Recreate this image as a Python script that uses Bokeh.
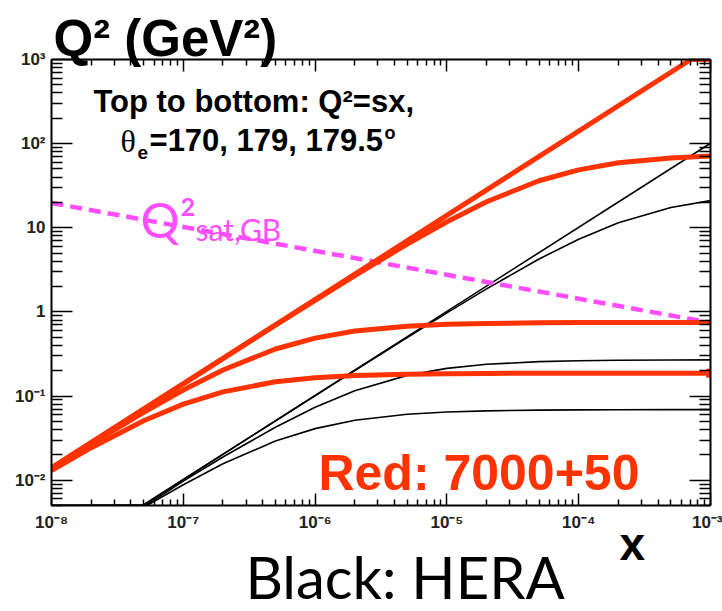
from bokeh.plotting import figure
from bokeh.models import Label, LogAxis, FixedTicker, CustomJSTickFormatter
from bokeh.embed import file_html
from bokeh.resources import INLINE

# ---------------- data ----------------
x_ticks = [1e-8, 1e-7, 1e-6, 1e-5, 1e-4, 1e-3]
y_ticks = [1e-2, 1e-1, 1, 10, 100, 1000]

# red: 7000 GeV p + 50 GeV e
red_grid_x = [1e-8, 2e-8, 5e-8, 1e-7, 2e-7, 5e-7, 1e-6, 2e-6, 5e-6,
              1e-5, 2e-5, 5e-5, 1e-4, 2e-4, 5e-4, 1e-3]
red_sx_x = [1e-8, 7.1e-4, 1e-3]
red_sx_q = [0.014, 1000, 1000]
red_170_q = [0.014, 0.028, 0.0699, 0.1397, 0.279, 0.694, 1.374, 2.70, 6.40,
             11.8, 20.4, 36.2, 48.8, 59.2, 67.7, 71.2]
red_179_q = [0.01374, 0.02699, 0.0640, 0.1180, 0.2039, 0.362, 0.488, 0.592, 0.677,
             0.712, 0.730, 0.742, 0.746, 0.748, 0.749, 0.750]
red_1795_q = [0.01302, 0.02435, 0.0509, 0.0801, 0.1121, 0.1476, 0.165, 0.1753, 0.182,
              0.1845, 0.1858, 0.1865, 0.1868, 0.1869, 0.187, 0.187]

# black: HERA
blk_sx_x = [1e-8, 4.9e-8, 1e-3]
blk_sx_q = [0.005, 0.005, 101.0]
blk_170_x = [1e-8, 5e-8, 1e-7, 2e-7, 5e-7, 1e-6, 2e-6, 5e-6, 1e-5, 2e-5, 5e-5, 1e-4, 2e-4, 5e-4, 1e-3]
blk_170_q = [0.005, 0.00506, 0.01012, 0.02022, 0.0505, 0.1008, 0.2009, 0.4965, 0.975,
             1.88, 4.25, 7.32, 11.47, 17.39, 21.0]
blk_179_x = [1e-8, 5.2e-8, 1e-7, 2e-7, 5e-7, 1e-6, 2e-6, 5e-6, 1e-5, 2e-5, 5e-5, 1e-4, 2e-4, 5e-4, 1e-3]
blk_179_q = [0.005, 0.005, 0.00975, 0.01883, 0.0426, 0.0736, 0.1157, 0.1761, 0.2131,
             0.2382, 0.2563, 0.2630, 0.2664, 0.2686, 0.2693]
blk_1795_x = [1e-8, 5.3e-8, 1e-7, 2e-7, 5e-7, 1e-6, 2e-6, 5e-6, 1e-5, 2e-5, 5e-5, 1e-4, 2e-4, 5e-4, 1e-3]
blk_1795_q = [0.005, 0.005, 0.00883, 0.01565, 0.0292, 0.0410, 0.0515, 0.0607, 0.0646,
              0.0667, 0.0681, 0.0685, 0.0688, 0.0689, 0.0690]

# saturation scale Q^2_sat,GB
sat_x = [1e-8, 1e-3]
sat_q = [19.7, 0.745]

RED = "#ff3300"
MAG = "#ff4dff"

p = figure(x_axis_type="log", y_axis_type="log",
           x_range=(1e-8, 1e-3), y_range=(0.005, 1000),
           frame_width=659, frame_height=446,
           min_border_left=51, min_border_right=12, min_border_top=59, min_border_bottom=106,
           output_backend="svg", toolbar_location=None)
p.grid.visible = False
p.outline_line_color = None
p.background_fill_color = "white"
p.border_fill_color = "white"

p.title.text = "Q\u00b2 (GeV\u00b2)"
p.title.align = "left"
p.title.offset = 2
p.title.standoff = -14
p.title.text_font = "Liberation Sans"
p.title.text_font_style = "bold"
p.title.text_font_size = "51px"
p.title.text_color = "black"

fmt_code = """
const e = Math.round(Math.log10(tick));
const sup = {'-':'\u207b','0':'\u2070','1':'\u00b9','2':'\u00b2','3':'\u00b3','4':'\u2074',
             '5':'\u2075','6':'\u2076','7':'\u2077','8':'\u2078','9':'\u2079'};
if (e == 0) return '1';
if (e == 1) return '10';
return '10' + String(e).split('').map(c => sup[c]).join('');
"""
x_minor = [m * 10.0 ** e for e in range(-9, -2) for m in range(2, 10)]
y_minor = [m * 10.0 ** e for e in range(-3, 4) for m in range(2, 10)]


def style(ax, major_in, minor_in):
    ax.axis_line_width = 2
    ax.axis_line_color = "black"
    ax.major_tick_in = major_in
    ax.major_tick_out = 0
    ax.minor_tick_in = minor_in
    ax.minor_tick_out = 0
    ax.major_tick_line_width = 1.5
    ax.minor_tick_line_width = 1.5
    ax.major_tick_line_color = "black"
    ax.minor_tick_line_color = "black"
    ax.major_label_text_font = "Liberation Sans"
    ax.major_label_text_font_style = "bold"
    ax.major_label_text_font_size = "17px"
    ax.major_label_text_color = "#222222"


xb = p.xaxis[0]
xb.ticker = FixedTicker(ticks=x_ticks, minor_ticks=x_minor)
xb.formatter = CustomJSTickFormatter(code=fmt_code)
style(xb, 12, 6)
xb.major_label_standoff = 7

yl = p.yaxis[0]
yl.ticker = FixedTicker(ticks=y_ticks, minor_ticks=y_minor)
yl.formatter = CustomJSTickFormatter(code=fmt_code)
style(yl, 21, 11)
yl.major_label_standoff = 6

xt = LogAxis(ticker=FixedTicker(ticks=x_ticks, minor_ticks=x_minor),
             formatter=CustomJSTickFormatter(code="return ''"))
style(xt, 12, 6)
xt.major_label_text_font_size = "1px"
xt.major_label_standoff = 0
p.add_layout(xt, "above")

yr = LogAxis(ticker=FixedTicker(ticks=y_ticks, minor_ticks=y_minor),
             formatter=CustomJSTickFormatter(code="return ''"))
style(yr, 21, 11)
yr.major_label_text_font_size = "1px"
yr.major_label_standoff = 0
p.add_layout(yr, "right")

# ---------------- curves ----------------
p.line(blk_sx_x, blk_sx_q, line_color="black", line_width=1.6)
p.line(blk_170_x, blk_170_q, line_color="black", line_width=1.6)
p.line(blk_179_x, blk_179_q, line_color="black", line_width=1.6)
p.line(blk_1795_x, blk_1795_q, line_color="black", line_width=1.6)

p.line(sat_x, sat_q, line_color=MAG, line_width=4.5, line_dash="12 7")

p.line(red_sx_x, red_sx_q, line_color=RED, line_width=5)
p.line(red_grid_x, red_170_q, line_color=RED, line_width=5)
p.line(red_grid_x, red_179_q, line_color=RED, line_width=5)
p.line(red_grid_x, red_1795_q, line_color=RED, line_width=5)
p.scatter([red_grid_x[-1]], [red_1795_q[-1]], marker="square", size=8,
          fill_color=RED, line_color=RED)

# ---------------- texts ----------------
def lab(x, y, text, size, font="Liberation Sans", style="bold", color="black",
        dx=0, dy=0, place=None):
    comp = round(0.42 * size)
    lbl = Label(x=x, y=y, text=text, text_font=font, text_font_style=style,
                text_font_size=f"{size}px", text_color=color,
                text_baseline="alphabetic", text_align="left",
                x_offset=dx, y_offset=dy + comp)
    if place:
        p.add_layout(lbl, place)
    else:
        p.add_layout(lbl)

lab(2.08e-8, 220, "Top to bottom: Q\u00b2=sx,", 31)
lab(3.34e-8, 76, "\u03b8", 32, font="Liberation Serif", style="normal")
lab(3.34e-8, 76, "e", 19, dx=17, dy=-7)
lab(3.34e-8, 76, "=170, 179, 179.5", 31, dx=29)
lab(3.34e-8, 76, "o", 18, dx=264, dy=13)

lab(4.73e-8, 7.2, "Q\u00b2", 49, font="Lato", style="normal", color=MAG)
lab(4.73e-8, 7.2, "sat,GB", 30, font="Lato", style="normal", color=MAG, dx=55, dy=-2)

lab(1.06e-6, 0.0068, "Red: 7000+50", 50, color=RED)

# texts that sit below the axis (placed in the lower side panel, in data units)
lab(2.04e-4, 1.04e-3, "x", 46, place="below")
lab(2.96e-7, 3.7e-4, "Black: HERA", 58, font="Lato", style="normal", place="below")

open("out.html", "w").write(file_html(p, INLINE))
